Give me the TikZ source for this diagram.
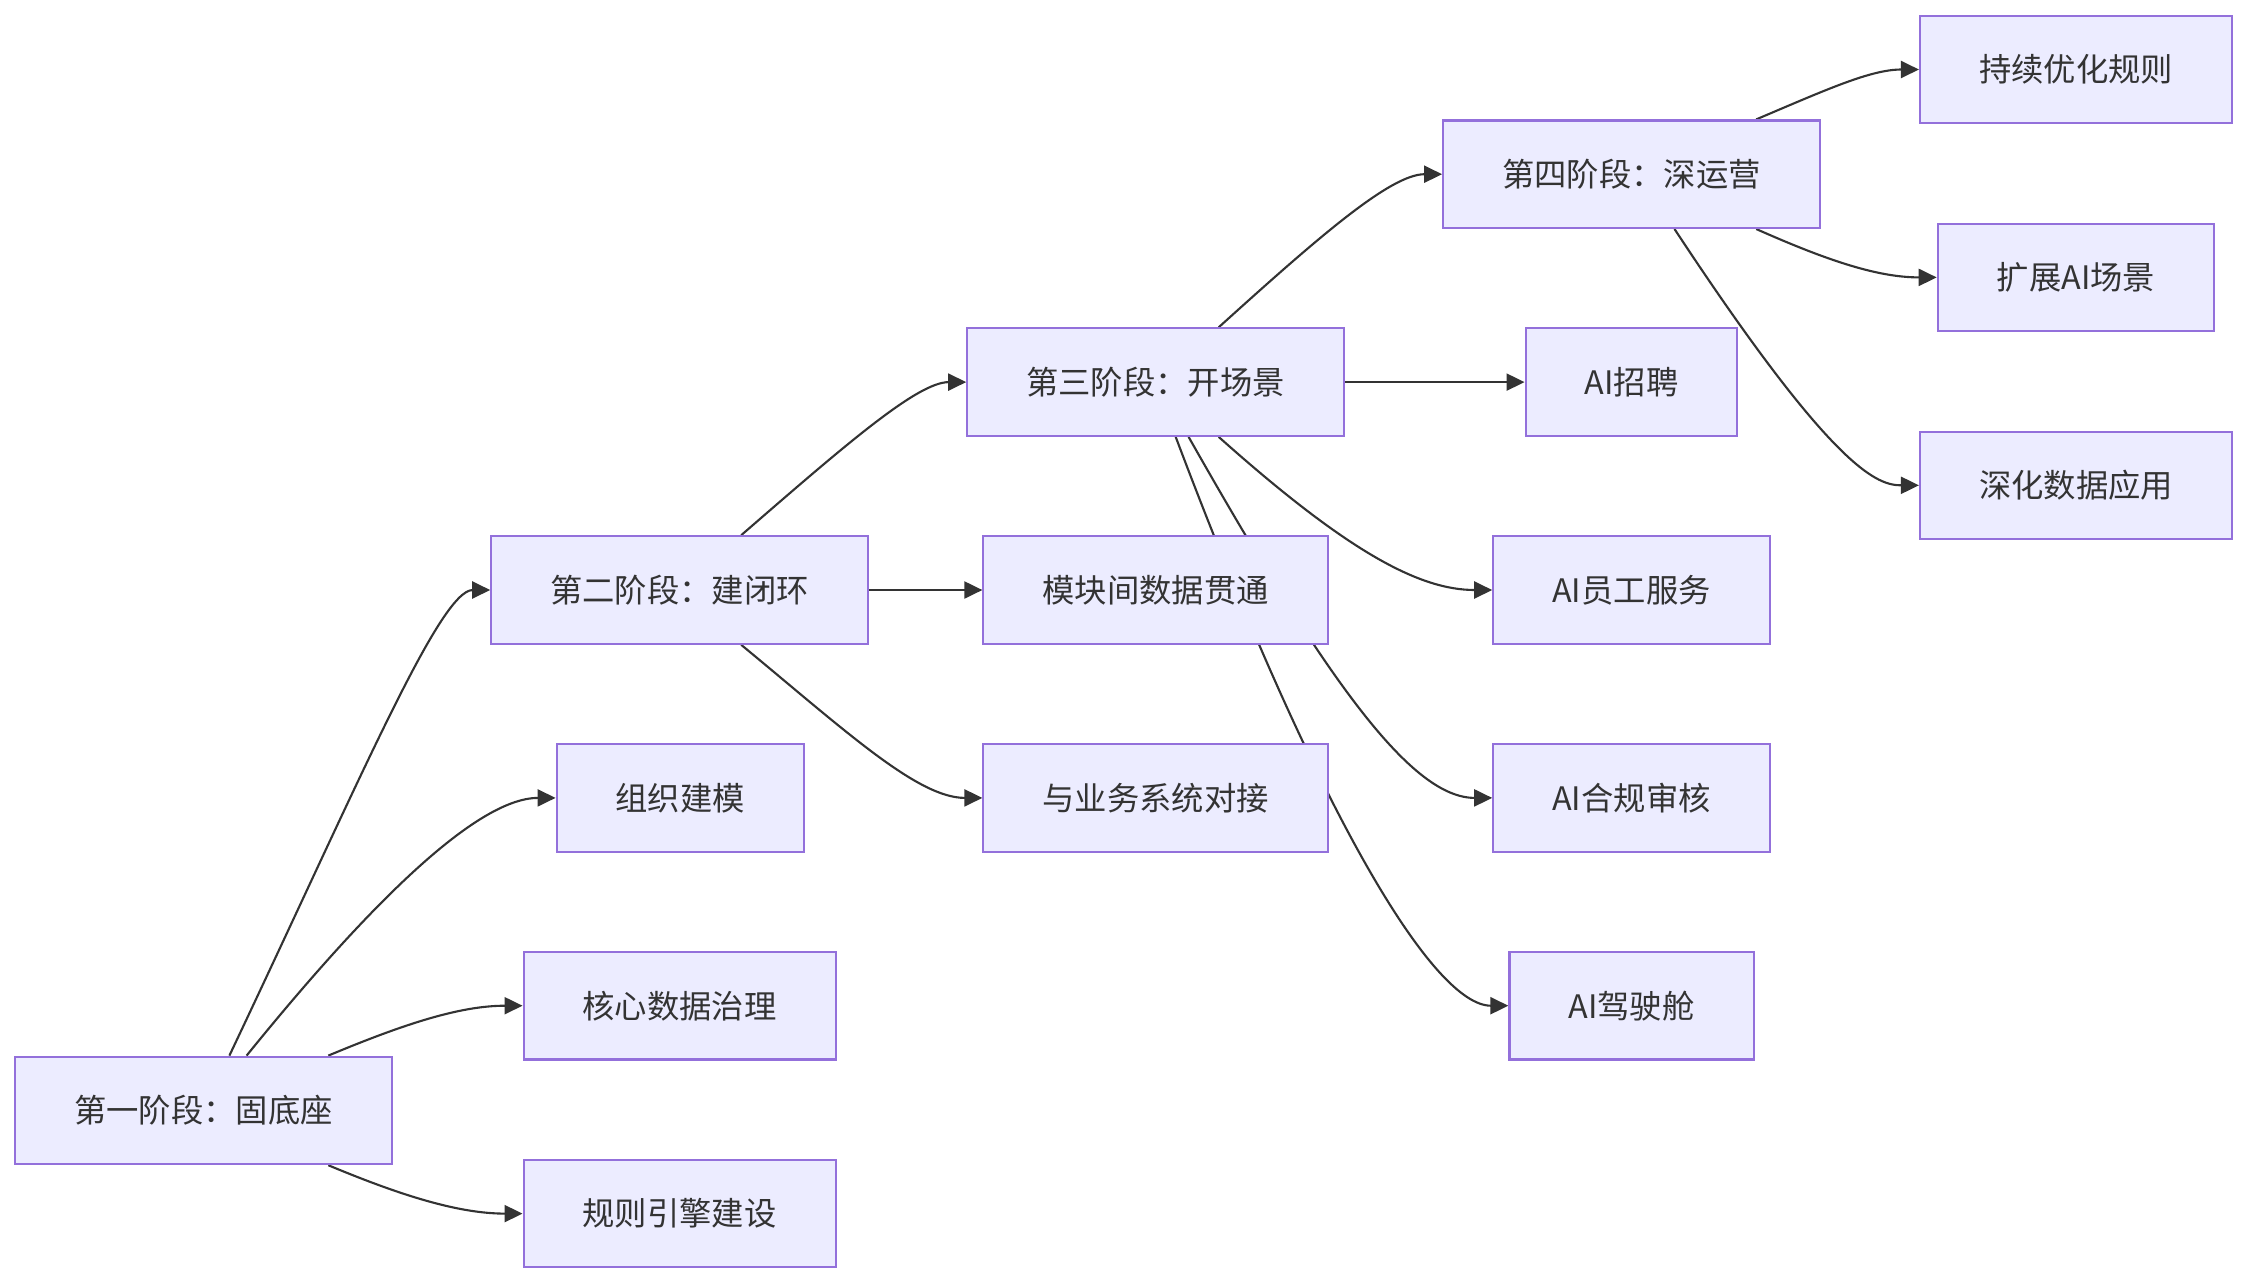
\documentclass[tikz,border=0pt]{standalone}
\usepackage{fontspec}
\setmainfont{Noto Sans CJK SC}
\usetikzlibrary{arrows.meta,backgrounds}

\definecolor{boxfill}{HTML}{ECECFF}
\definecolor{boxline}{HTML}{9370DB}
\definecolor{ink}{HTML}{333333}

\tikzset{
  stage/.style={draw=boxline, fill=boxfill, line width=0.6pt, text=ink,
    minimum height=1.075cm, inner xsep=0.59cm, font=\fontsize{9.2}{11}\selectfont},
  link/.style={draw=ink, line width=0.6pt, -{Triangle[length=0.18cm,width=0.17cm]}}
}

\begin{document}
\begin{tikzpicture}
  \useasboundingbox (0,0) rectangle (22.48,-12.84);

  \node[stage] (p1) at (2.036,-11.104) {第一阶段：固底座};
  \node[stage] (zz) at (6.803,-7.979) {组织建模};
  \node[stage] (hx) at (6.796,-10.057) {核心数据治理};
  \node[stage] (gz) at (6.796,-12.136) {规则引擎建设};

  \node[stage] (p2) at (6.796,-5.900) {第二阶段：建闭环};
  \node[stage] (mk) at (11.556,-5.900) {模块间数据贯通};
  \node[stage] (yw) at (11.556,-7.979) {与业务系统对接};

  \node[stage] (p3) at (11.556,-3.821) {第三阶段：开场景};
  \node[stage] (zp) at (16.315,-3.821) {AI招聘};
  \node[stage] (yg) at (16.315,-5.900) {AI员工服务};
  \node[stage] (hg) at (16.315,-7.979) {AI合规审核};
  \node[stage] (js) at (16.315,-10.057) {AI驾驶舱};

  \node[stage] (p4) at (16.315,-1.742) {第四阶段：深运营};
  \node[stage] (cx) at (20.760,-0.695) {持续优化规则};
  \node[stage] (kz) at (20.760,-2.774) {扩展AI场景};
  \node[stage] (sh) at (20.760,-4.853) {深化数据应用};

  \begin{scope}[on background layer]
    \draw[link] ([xshift=0.258cm]p1.north) .. controls (3.6,-7.8) and (4.4,-5.9) .. (p2.west);
    \draw[link] ([xshift=0.430cm]p1.north) .. controls (3.584,-9.176) and (4.731,-7.979) .. (zz.west);
    \draw[link] ([xshift=1.247cm]p1.north) .. controls (4.014,-10.251) and (4.588,-10.057) .. (hx.west);
    \draw[link] ([xshift=1.247cm]p1.south) .. controls (4.014,-11.957) and (4.588,-12.136) .. (gz.west);

    \draw[link] (p2.east) -- (mk.west);
    \draw[link] ([xshift=0.616cm]p2.south) .. controls (8.459,-7.312) and (9.176,-7.979) .. (yw.west);
    \draw[link] ([xshift=0.616cm]p2.north) .. controls (8.459,-4.444) and (9.176,-3.821) .. (p3.west);

    \draw[link] (p3.east) -- (zp.west);
    \draw[link] ([xshift=0.631cm]p3.south) .. controls (13.477,-5.520) and (14.194,-5.900) .. (yg.west);
    \draw[link] ([xshift=0.330cm]p3.south) .. controls (13.290,-6.850) and (14.122,-7.979) .. (hg.west);
    \draw[link] ([xshift=0.201cm]p3.south) .. controls (13.190,-8.172) and (14.337,-10.057) .. (js.west);
    \draw[link] ([xshift=0.631cm]p3.north) .. controls (13.190,-2.366) and (13.907,-1.742) .. (p4.west);

    \draw[link] ([xshift=1.247cm]p4.north) .. controls (18.280,-0.889) and (18.710,-0.695) .. (cx.west);
    \draw[link] ([xshift=1.247cm]p4.south) .. controls (18.280,-2.609) and (18.781,-2.774) .. (kz.west);
    \draw[link] ([xshift=0.430cm]p4.south) .. controls (18.351,-4.731) and (18.781,-4.853) .. (sh.west);
  \end{scope}
\end{tikzpicture}
\end{document}
